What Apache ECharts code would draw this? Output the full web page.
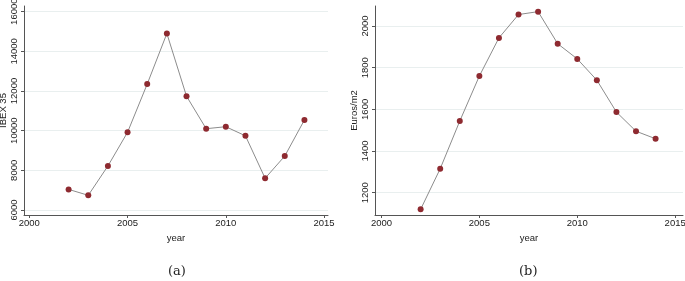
<!DOCTYPE html>
<html>
<head>
<meta charset="utf-8">
<script src="https://cdn.jsdelivr.net/npm/echarts@6/dist/echarts.min.js"></script>
<style>
  html, body { margin: 0; padding: 0; background: #fff; }
  #chart { width: 685px; height: 281px; }
</style>
</head>
<body>
<div id="chart"></div>
<script>
// data
var years = [2002, 2003, 2004, 2005, 2006, 2007, 2008, 2009, 2010, 2011, 2012, 2013, 2014];
var ibex = [7040, 6740, 8220, 9920, 12350, 14900, 11740, 10100, 10200, 9740, 7600, 8720, 10540];
var euros = [1120, 1315, 1544, 1760, 1943, 2055, 2069, 1915, 1842, 1740, 1587, 1495, 1459];
var yearTicks = [2000, 2005, 2010, 2015];
var ibexTicks = [6000, 8000, 10000, 12000, 14000, 16000];
var euroTicks = [1200, 1400, 1600, 1800, 2000];

var chart = echarts.init(document.getElementById('chart'));

var font = 'Liberation Sans, Arial, sans-serif';
var lineCol = '#8c8c8c';
var dotCol = '#8e2a30';

function pairs(xs, ys) {
    return xs.map(function (x, i) { return [x, ys[i]]; });
}

function plain(v) { return String(v); }

function xAxis(idx, min, max) {
    return {
        type: 'value', gridIndex: idx, min: min, max: max,
        name: 'year', nameLocation: 'middle', nameGap: 15,
        nameTextStyle: { fontFamily: font, fontSize: 9.5, color: '#222' },
        axisLine: { lineStyle: { color: '#555', width: 1 } },
        axisTick: { customValues: yearTicks, length: 3, lineStyle: { color: '#555' } },
        axisLabel: { customValues: yearTicks, formatter: plain, fontFamily: font, fontSize: 9.5, color: '#222', margin: 3 },
        splitLine: { show: false }
    };
}

function yAxis(idx, min, max, ticks, name, gap) {
    return {
        type: 'value', gridIndex: idx, min: min, max: max,
        name: name, nameLocation: 'middle', nameGap: gap, nameRotate: 90,
        nameMoveOverlap: false,
        nameTextStyle: { fontFamily: font, fontSize: 9.5, color: '#222' },
        axisLine: { show: true, lineStyle: { color: '#555', width: 1 } },
        axisTick: { show: true, customValues: ticks, length: 3, lineStyle: { color: '#555' } },
        axisLabel: { customValues: ticks, formatter: plain, rotate: 90, fontFamily: font, fontSize: 9.5, color: '#222', margin: 5 },
        splitLine: { show: true, lineStyle: { color: '#e9efef', width: 1 } }
    };
}

function series(idx, data) {
    return {
        type: 'line', xAxisIndex: idx, yAxisIndex: idx,
        data: data,
        symbol: 'circle', symbolSize: 6,
        lineStyle: { color: lineCol, width: 1 },
        itemStyle: { color: dotCol },
        animation: false
    };
}

chart.setOption({
    animation: false,
    grid: [
        { left: 24, width: 304, top: 6, height: 209, outerBoundsMode: 'none', containLabel: false },
        { left: 375, width: 308, top: 6, height: 209, outerBoundsMode: 'none', containLabel: false }
    ],
    xAxis: [
        xAxis(0, 1999.73, 2015.2),
        xAxis(1, 1999.67, 2015.4)
    ],
    yAxis: [
        yAxis(0, 5748, 16287, ibexTicks, 'IBEX 35', 16),
        yAxis(1, 1093, 2096, euroTicks, 'Euros/m2', 16)
    ],
    series: [
        series(0, pairs(years, ibex)),
        series(1, pairs(years, euros))
    ],
    graphic: [
        { type: 'text', left: 168, top: 265, style: { text: '(a)', font: '13px "DejaVu Serif", serif', fill: '#222' } },
        { type: 'text', left: 519, top: 265, style: { text: '(b)', font: '13px "DejaVu Serif", serif', fill: '#222' } }
    ]
});
</script>
</body>
</html>
